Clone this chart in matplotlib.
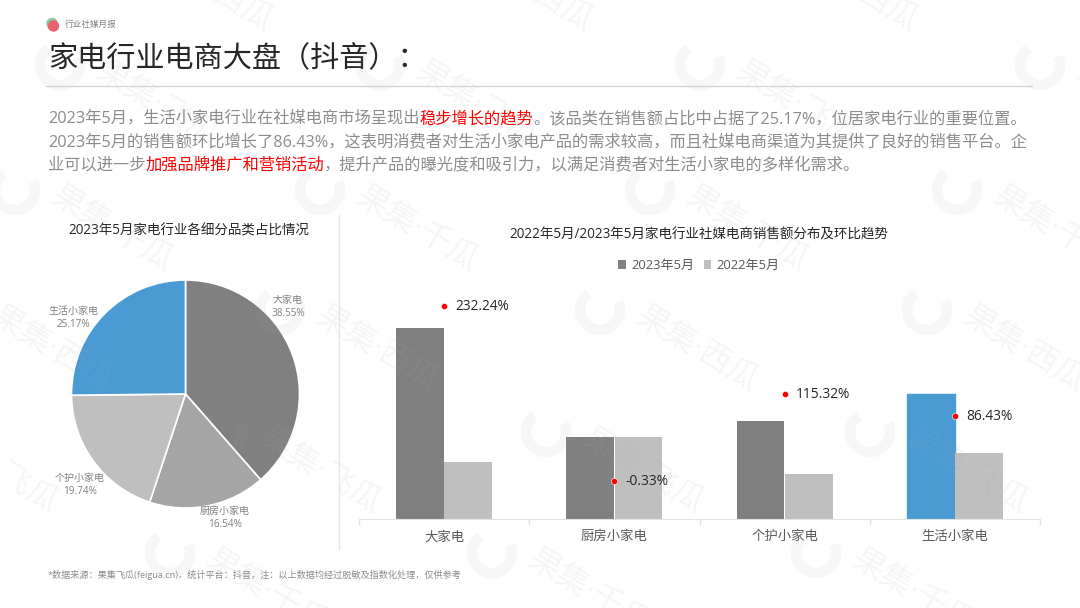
import matplotlib
matplotlib.use("Agg")
import matplotlib.pyplot as plt
from matplotlib.patches import Arc, Circle, Wedge

plt.rcParams['font.family'] = ['Open Sans', 'Noto Sans CJK SC', 'DejaVu Sans']

categories = ['大家电', '厨房小家电', '个护小家电', '生活小家电']
share = [38.55, 16.54, 19.74, 25.17]
sales_2023 = [100, 42.9, 51.3, 65.4]
sales_2022 = [29.8, 42.9, 23.6, 34.6]
growth = [232.24, -0.33, 115.32, 86.43]

GREY_D = '#808080'
GREY_M = '#a5a5a5'
GREY_L = '#bfbfbf'
BLUE = '#4a9ad4'
RED = '#fe0000'
W, H = 1080, 608

title_text = '家电行业电商大盘（抖音）：'
body_lines = [
    [('2023年5月，生活小家电行业在社媒电商市场呈现出', 0), ('稳步增长的趋势', 1),
     ('。该品类在销售额占比中占据了25.17%，位居家电行业的重要位置。', 0)],
    [('2023年5月的销售额环比增长了86.43%，这表明消费者对生活小家电产品的需求较高，而且社媒电商渠道为其提供了良好的销售平台。企', 0)],
    [('业可以进一步', 0), ('加强品牌推广和营销活动', 1),
     ('，提升产品的曝光度和吸引力，以满足消费者对生活小家电的多样化需求。', 0)],
]
footer = '*数据来源：果集飞瓜(feigua.cn)，统计平台：抖音，注：以上数据均经过脱敏及指数化处理，仅供参考'
pie_labels = [(288, 307), (225, 518), (80, 485), (73, 318)]
# watermark rows: logo y, logo x list, brand word
marks = [
    (-50, [115, 435, 760], '果集·西瓜'),
    (65, [60, 380, 700, 1040], '果集·飞瓜'),
    (190, [15, 320, 650, 957], '果集·千瓜'),
    (310, [-45, 280, 600, 927], '果集·西瓜'),
    (432, [-100, 223, 546, 870], '果集·飞瓜'),
    (553, [170, 492, 816], '果集·千瓜'),
]


def axes_px(x0, y0, x1, y1, **kw):
    return fig.add_axes([x0 / W, 1 - y1 / H, (x1 - x0) / W, (y1 - y0) / H], **kw)


fig = plt.figure(figsize=(10.8, 6.08), dpi=100, facecolor='white')

# page layer in pixel coordinates
bg = axes_px(0, 0, W, H)
bg.set_xlim(0, W)
bg.set_ylim(H, 0)
bg.axis('off')

bg.add_patch(Circle((52, 23.5), 5, color='#8fc79a'))
bg.add_patch(Circle((53.5, 26), 5, color='#e8636b'))
bg.text(64.5, 24.5, '行业社媒月报', fontsize=6.2, color='#808080', va='center')
bg.text(48, 59.5, title_text, fontsize=21, color='#262626', va='center')
bg.plot([46, 1032], [85.5, 85.5], color='#cfd6db', lw=0.9)
bg.plot([339, 339], [215, 549], color='#e6e6e6', lw=1)

renderer = fig.canvas.get_renderer()
for row, y in zip(body_lines, [119, 142.5, 166]):
    x = 48
    for seg, hot in row:
        t = bg.text(x, y, seg, fontsize=11.73, color=RED if hot else '#8c8c8c', va='center')
        x += t.get_window_extent(renderer).width

bg.text(188.5, 231.5, '2023年5月家电行业各细分品类占比情况', fontsize=9.75, color='#262626',
        ha='center', va='center', fontweight='medium')
bg.text(699, 235.5, '2022年5月/2023年5月家电行业社媒电商销售额分布及环比趋势', fontsize=9.75,
        color='#262626', ha='center', va='center', fontweight='medium')
bg.text(48, 575, footer, fontsize=6.6, color='#8c8c8c', va='center')

# pie
pie_ax = axes_px(71.5, 280, 299.5, 508)
pie_ax.pie(share, colors=[GREY_D, GREY_M, GREY_L, BLUE], startangle=90, counterclock=False,
           radius=1, wedgeprops=dict(edgecolor='white', linewidth=1.2))
pie_ax.set_xlim(-1, 1)
pie_ax.set_ylim(-1, 1)
for (px, py), name, v in zip(pie_labels, categories, share):
    bg.text(px, py, f'{name}\n{v:.2f}%', fontsize=7.2, color='#808080', ha='center', va='center',
            linespacing=1.15, zorder=5)
bg.set_zorder(pie_ax.get_zorder() + 1)
bg.patch.set_alpha(0)

# bars and growth dots
ax = axes_px(359, 290, 1040, 519)
xs = range(len(categories))
bar_w = 0.281
b1 = ax.bar([i - 0.142 for i in xs], sales_2023, bar_w, color=GREY_D, label='2023年5月')
b2 = ax.bar([i + 0.142 for i in xs], sales_2022, bar_w, color=GREY_L, label='2022年5月')
b1[3].set_color(BLUE)
ax.set_xlim(-0.5, 3.5)
ax.set_ylim(0, 119.9)
ax.set_yticks([])
ax.set_xticks(list(xs))
ax.set_xticklabels(categories, fontsize=9.6, color='#595959')
ax.tick_params(axis='x', which='major', length=0, pad=8)
ax.set_xticks([-0.5, 0.5, 1.5, 2.5, 3.5], minor=True)
ax.tick_params(axis='x', which='minor', length=4, width=1, color='#e3e3e3')
for s in ['top', 'left', 'right']:
    ax.spines[s].set_visible(False)
ax.spines['bottom'].set_color('#e3e3e3')
ax.patch.set_alpha(0)
leg = ax.legend(handles=[b1[0], b2[0]], labels=['2023年5月', '2022年5月'], loc='center',
                bbox_to_anchor=(699 / W, 1 - 265.5 / H), bbox_transform=fig.transFigure, ncol=2,
                frameon=False, fontsize=9.4, handlelength=0.6, handleheight=0.6,
                handletextpad=0.4, columnspacing=0.7, labelcolor='#595959')

ax2 = ax.twinx()
ax2.set_ylim(-50.8, 253.5)
ax2.axis('off')
ax2.scatter(list(xs), growth, s=20, color=RED, edgecolor='white', linewidth=0.4, zorder=5)
for i, g in zip(xs, growth):
    ax2.annotate(f'{g:.2f}%', (i, g), xytext=(8.2, -0.2), textcoords='offset points', fontsize=9.9,
                 color='#262626', va='center')

# watermark on top of everything
wm = axes_px(0, 0, W, H)
wm.set_xlim(0, W)
wm.set_ylim(H, 0)
wm.axis('off')
wm.patch.set_alpha(0)
wm.set_zorder(50)
for y, logo_xs, word in marks:
    for x in logo_xs:
        wm.add_patch(Arc((x, y), 40, 40, theta1=-25, theta2=235, lw=7.5, color='#aaaaaa', alpha=0.09))
        wm.text(x + 97, y + 39, word, fontsize=23, color='#aaaaaa', alpha=0.11, rotation=-31,
                ha='center', va='center', rotation_mode='anchor', clip_on=True)

fig.savefig('out.png', dpi=100)
